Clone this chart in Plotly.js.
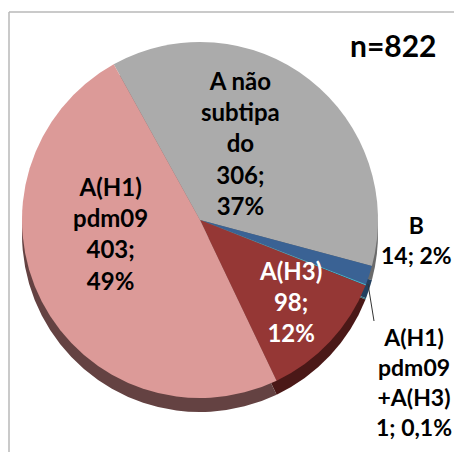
<!DOCTYPE html>
<html>
<head>
<meta charset="utf-8">
<script src="https://cdn.plot.ly/plotly-3.0.1.min.js"></script>
<style>
html,body{margin:0;padding:0;background:#fff;}
#chart{width:454px;height:452px;}
</style>
</head>
<body>
<div id="chart"></div>
<script>
// ---- data ----
var categories = ['A não subtipado', 'B', 'A(H1)pdm09+A(H3)', 'A(H3)', 'A(H1)pdm09'];
var labelLines = ['A não<br>subtipa<br>do', 'B', 'A(H1)<br>pdm09<br>+A(H3)', 'A(H3)', 'A(H1)<br>pdm09'];
var values = [306, 14, 1, 98, 403];
var percentLabels = ['37%', '2%', '0,1%', '12%', '49%'];
var separators = [';<br>', '; ', '; ', ';<br>', ';<br>'];
var totalLabel = 'n=822';

// ---- styles ----
var sliceColors = ['#ababab', '#3a6294', '#4bacc6', '#953735', '#dc9a98'];
var rimColors = ['#6a6a6a', '#24405f', '#2f7080', '#4a1817', '#644242'];
var labelColors = ['#000', '#000', '#000', '#fff', '#000'];
var labelSizes = [24, 23, 23, 24, 24];
// label anchor positions in pixels (x, y)
var labelPos = [[240, 143], [416, 240], [374, 321], [290, 301], [110, 233]];

var W = 454, H = 452;
var cx = 200, cy = 220, R = 178, rim = 14;
var font = 'Lato, "Open Sans", "DejaVu Sans", sans-serif';

function dom(cxp, cyp, r) {
  return {
    x: [(cxp - r) / W, (cxp + r) / W],
    y: [(H - cyp - r) / H, (H - cyp + r) / H]
  };
}
function px(x) { return x / W; }
function py(y) { return (H - y) / H; }

var rimTrace = {
  type: 'pie', labels: categories, values: values, sort: false,
  direction: 'clockwise', rotation: -29,
  marker: {colors: rimColors, line: {width: 0}},
  textinfo: 'none', hoverinfo: 'skip', showlegend: false,
  domain: dom(cx, cy + rim, R)
};

var topTrace = {
  type: 'pie', labels: categories, values: values, sort: false,
  direction: 'clockwise', rotation: -29,
  marker: {colors: sliceColors, line: {width: 0}},
  textinfo: 'none', hoverinfo: 'label+value+percent', showlegend: false,
  domain: dom(cx, cy, R)
};

var annotations = categories.map(function (c, i) {
  var a = {
    xref: 'paper', yref: 'paper',
    text: labelLines[i] + '<br>' + values[i] + separators[i] + percentLabels[i],
    font: {family: font, size: labelSizes[i], color: labelColors[i], weight: 'bold'},
    align: 'center', showarrow: false,
    x: px(labelPos[i][0]), y: py(labelPos[i][1]),
    xanchor: 'center', yanchor: 'middle'
  };
  if (i === 2) {
    // leader line from the tiny slice to the label box corner
    var tip = [368, 284];
    a.x = px(tip[0]); a.y = py(tip[1]);
    a.ax = labelPos[i][0] - tip[0]; a.ay = labelPos[i][1] - tip[1];
    a.xanchor = 'left'; a.yanchor = 'top';
    a.showarrow = true; a.arrowhead = 0; a.arrowwidth = 1; a.arrowcolor = '#333';
  }
  return a;
});

annotations.push({
  xref: 'paper', yref: 'paper', x: px(393), y: py(45),
  text: totalLabel, showarrow: false,
  font: {family: font, size: 30, color: '#000', weight: 'bold'},
  xanchor: 'center', yanchor: 'middle'
});

var layout = {
  width: W, height: H,
  margin: {l: 0, r: 0, t: 0, b: 0},
  paper_bgcolor: '#ffffff',
  showlegend: false,
  annotations: annotations,
  shapes: [
    {type: 'line', xref: 'paper', yref: 'paper', x0: px(9), y0: py(12), x1: 1.01, y1: py(12),
     line: {color: '#b8b8b8', width: 1.5}},
    {type: 'line', xref: 'paper', yref: 'paper', x0: px(9), y0: py(12), x1: px(9), y1: -0.01,
     line: {color: '#b8b8b8', width: 1.5}}
  ]
};

Plotly.newPlot('chart', [rimTrace, topTrace], layout, {displayModeBar: false, staticPlot: true});
</script>
</body>
</html>
